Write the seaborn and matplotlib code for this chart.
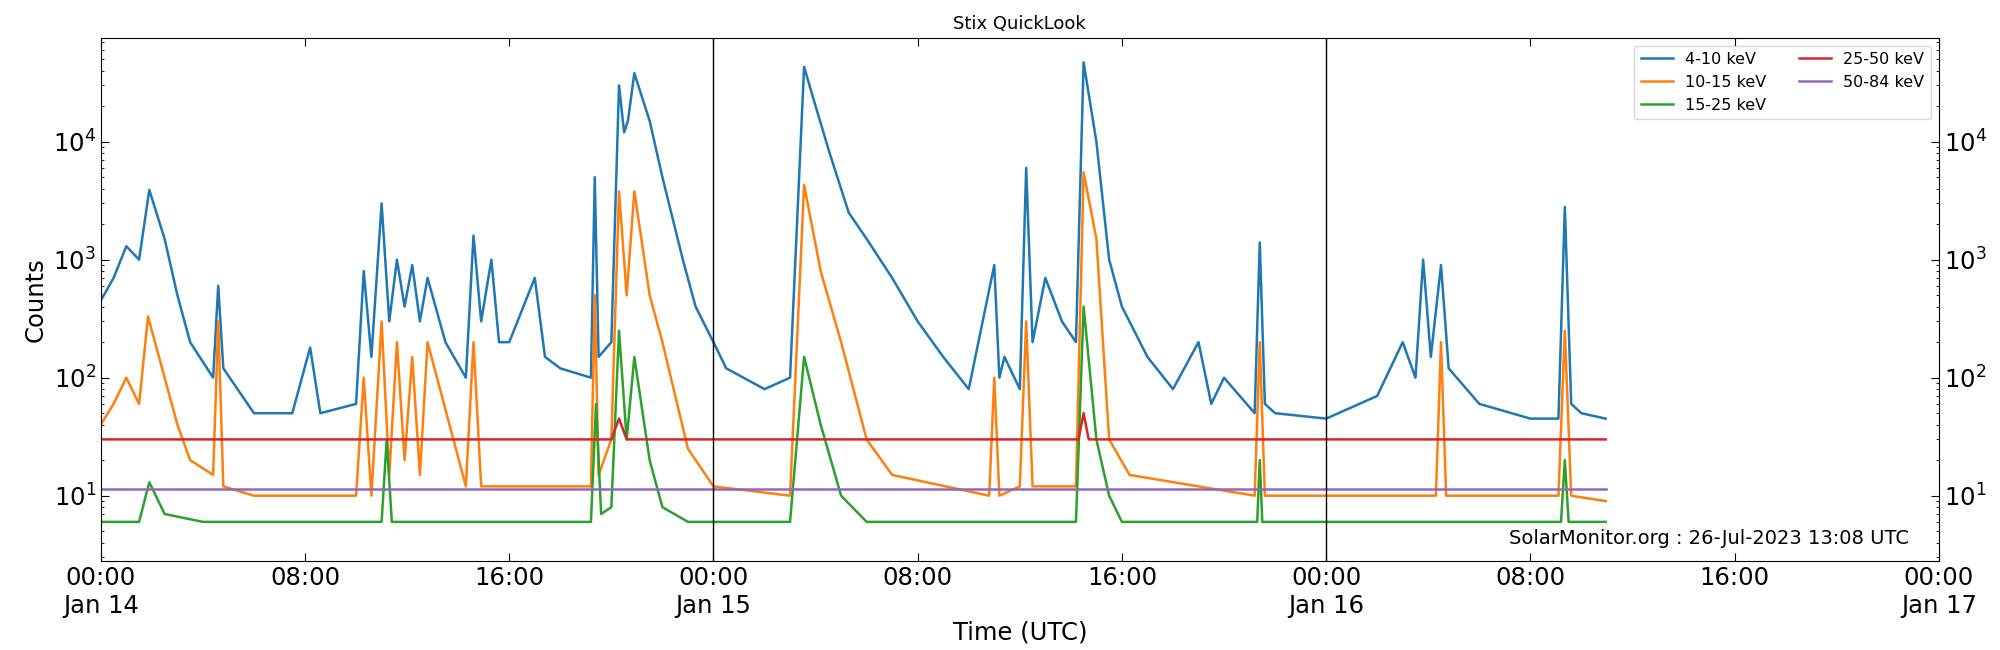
import matplotlib
matplotlib.use("Agg")
import matplotlib.pyplot as plt
import seaborn as sns

# hours since 2023-01-14 00:00 UTC, counts
t_low = [0, 0.5, 1.0, 1.5, 1.9, 2.5, 3.0, 3.5, 4.4, 4.6, 4.8, 6.0, 7.5, 8.2, 8.6, 10.0, 10.3, 10.6,
         11.0, 11.3, 11.6, 11.9, 12.2, 12.5, 12.8, 13.5, 14.3, 14.6, 14.9, 15.3, 15.6, 16.0, 17.0, 17.4,
         18.0, 19.2, 19.35, 19.5, 20.0, 20.3, 20.5, 20.65, 20.9, 21.5, 22.0, 22.8, 23.3, 24.0, 24.5,
         26.0, 27.0, 27.55, 28.0, 28.55, 29.3, 30.0, 31.0, 32.0, 33.0, 34.0, 35.0, 35.2, 35.4, 36.0,
         36.25, 36.5, 37.0, 37.65, 38.2, 38.5, 39.0, 39.5, 40.0, 41.0, 42.0, 43.0, 43.5, 44.0, 45.2,
         45.4, 45.6, 46.0, 48.0, 50.0, 51.0, 51.5, 51.8, 52.1, 52.5, 52.8, 54.0, 56.0, 57.1, 57.35,
         57.6, 58.0, 58.95]
v_low = [450, 700, 1300, 1000, 3900, 1500, 500, 200, 100, 600, 120, 50, 50, 180, 50, 60, 800, 150,
         3000, 300, 1000, 400, 900, 300, 700, 200, 100, 1600, 300, 1000, 200, 200, 700, 150,
         120, 100, 5000, 150, 200, 30000, 12000, 15000, 38000, 15000, 5000, 1000, 400, 200, 120,
         80, 100, 43000, 20000, 8000, 2500, 1500, 700, 300, 150, 80, 900, 100, 150, 80,
         6000, 200, 700, 300, 200, 47000, 10000, 1000, 400, 150, 80, 200, 60, 100, 50,
         1400, 60, 50, 45, 70, 200, 100, 1000, 150, 900, 120, 60, 45, 45, 2800,
         60, 50, 45]

t_mid = [0, 0.5, 1.0, 1.5, 1.85, 2.5, 3.0, 3.5, 4.4, 4.6, 4.8, 6.0, 10.0, 10.3, 10.6, 11.0, 11.3,
         11.6, 11.9, 12.2, 12.5, 12.8, 14.3, 14.6, 14.9, 19.2, 19.35, 19.5, 20.0, 20.3, 20.6, 20.9,
         21.5, 22.0, 23.0, 24.0, 27.0, 27.55, 28.2, 29.0, 30.0, 31.0, 34.8, 35.0, 35.2, 36.0, 36.25,
         36.5, 38.2, 38.5, 39.0, 39.5, 40.3, 45.2, 45.4, 45.6, 52.3, 52.5, 52.7, 57.1, 57.35, 57.6, 58.95]
v_mid = [40, 60, 100, 60, 330, 100, 40, 20, 15, 300, 12, 10, 10, 100, 10, 300, 15,
         200, 20, 150, 15, 200, 12, 200, 12, 12, 500, 15, 30, 3800, 500, 3800,
         500, 200, 25, 12, 10, 4300, 800, 200, 30, 15, 10, 100, 10, 12, 300,
         12, 12, 5500, 1500, 30, 15, 10, 200, 10, 10, 200, 10, 10, 250, 10, 9]

t_hi = [0, 1.5, 1.9, 2.5, 4.0, 11.0, 11.2, 11.4, 19.2, 19.4, 19.6, 20.0, 20.3, 20.6, 20.9, 21.5, 22.0,
        23.0, 27.0, 27.55, 28.2, 29.0, 30.0, 38.2, 38.5, 39.0, 39.5, 40.0, 45.3, 45.4, 45.5, 57.2, 57.35,
        57.5, 58.95]
v_hi = [6, 6, 13, 7, 6, 6, 30, 6, 6, 60, 7, 8, 250, 30, 150, 20, 8,
        6, 6, 150, 40, 10, 6, 6, 400, 30, 10, 6, 6, 20, 6, 6, 20,
        6, 6]

t_flat = [0, 20.0, 20.3, 20.6, 38.3, 38.5, 38.7, 58.95]
v_25_50 = [30, 30, 45, 30, 30, 50, 30, 30]
v_50_84 = [11.5, 11.5, 11.5, 11.5, 11.5, 11.5, 11.5, 11.5]

tick_hours = [0, 8, 16, 24, 32, 40, 48, 56, 64, 72]
tick_labels = ["00:00\nJan 14", "08:00", "16:00", "00:00\nJan 15", "08:00", "16:00",
               "00:00\nJan 16", "08:00", "16:00", "00:00\nJan 17"]

fig = plt.figure(figsize=(20, 6.5), dpi=100)
ax = fig.add_axes([0.0504, 0.137, 0.9190, 0.805])

series = [(t_low, v_low, "4-10 keV"), (t_mid, v_mid, "10-15 keV"), (t_hi, v_hi, "15-25 keV"),
          (t_flat, v_25_50, "25-50 keV"), (t_flat, v_50_84, "50-84 keV")]
pal = sns.color_palette("tab10")
for i, (t, v, lab) in enumerate(series):
    sns.lineplot(x=t, y=v, ax=ax, label=lab, color=pal[i], linewidth=1.8)

ax.set_yscale("log")
ax.set_ylim(2.8, 76000)
ax.set_xlim(0, 72)
ax.axvline(24, color="black", linewidth=1)
ax.axvline(48, color="black", linewidth=1)
ax.set_xticks(tick_hours)
ax.set_xticklabels(tick_labels)
ax.tick_params(axis="both", which="both", direction="in", labelsize=17.5, top=True, right=True,
               labelright=True)
ax.tick_params(axis="both", which="major", length=6)
ax.set_xlabel("Time (UTC)", fontsize=17.5, labelpad=2)
ax.set_ylabel("Counts", fontsize=17.5)
ax.set_title("Stix QuickLook", fontsize=13)
ax.legend(loc="upper right", ncol=2, fontsize=11.5)
ax.text(0.984, 0.025, "SolarMonitor.org : 26-Jul-2023 13:08 UTC", transform=ax.transAxes,
        ha="right", va="bottom", fontsize=14)

fig.savefig("out.png", dpi=100)
